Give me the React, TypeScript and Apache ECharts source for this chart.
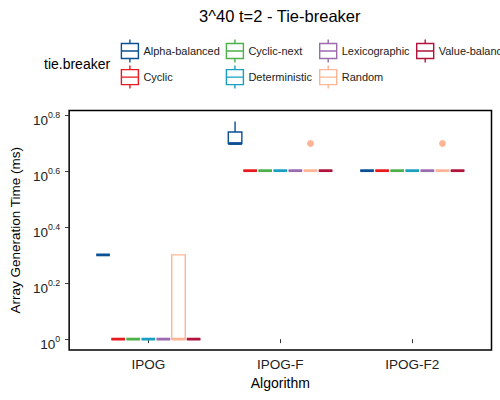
import React, { useEffect, useRef } from "react";
import * as echarts from "echarts";

// ---- data (ms) ----
const algorithms = ["IPOG", "IPOG-F", "IPOG-F2"];
const tieBreakers = [
  "Alpha-balanced",
  "Cyclic",
  "Cyclic-next",
  "Deterministic",
  "Lexicographic",
  "Random",
  "Value-balanced",
];
// five-number summaries [min, q1, median, q3, max] per algorithm
const alphaBalanced = [[2, 2, 2, 2, 2], [5, 5, 5, 5.5, 6], [4, 4, 4, 4, 4]];
const cyclic = [[1, 1, 1, 1, 1], [4, 4, 4, 4, 4], [4, 4, 4, 4, 4]];
const cyclicNext = [[1, 1, 1, 1, 1], [4, 4, 4, 4, 4], [4, 4, 4, 4, 4]];
const deterministic = [[1, 1, 1, 1, 1], [4, 4, 4, 4, 4], [4, 4, 4, 4, 4]];
const lexicographic = [[1, 1, 1, 1, 1], [4, 4, 4, 4, 4], [4, 4, 4, 4, 4]];
const random = [[1, 1, 1, 2, 2], [4, 4, 4, 4, 4], [4, 4, 4, 4, 4]];
const valueBalanced = [[1, 1, 1, 1, 1], [4, 4, 4, 4, 4], [4, 4, 4, 4, 4]];
const randomOutliers = [[], [5], [5]];
const noOutliers = [[], [], []];
const yTickExponents = [0, 0.2, 0.4, 0.6, 0.8];

const summaries = [alphaBalanced, cyclic, cyclicNext, deterministic, lexicographic, random, valueBalanced];
const outlierSets = tieBreakers.map((t) => (t === "Random" ? randomOutliers : noOutliers));

// ---- style ----
const colors = ["#0B4F94", "#E8191F", "#4DB04A", "#1A9FC0", "#9C6BAD", "#FDB596", "#B0143C"];
const legendColumns = [[0, 1], [2, 3], [4, 5], [6]];
const legendLefts = [120.7, 225.7, 319, 416];
const FONT = "Liberation Sans, Arial, Helvetica, sans-serif";
const SLOT = 0.8 / 7;
const Y_MIN = -0.0389;
const Y_MAX = 0.8171;
const ICON = "path://M0,4L17,4L17,19L0,19Z M0,11.5L17,11.5 M8.5,0L8.5,4 M8.5,19L8.5,23";

export default function App() {
  const ref = useRef<HTMLDivElement>(null);
  useEffect(() => {
    if (!ref.current) return;
    const chart = echarts.init(ref.current, undefined, { renderer: "svg" });

    const series = tieBreakers.map((name, si) => ({
      type: "custom",
      name,
      silent: true,
      encode: { x: 0, y: [1, 2, 3, 4, 5] },
      data: summaries[si].map((s, a) => [a + 1, ...s.map((v) => Math.log10(v))]),
      renderItem: (params: any, api: any) => {
        const c = colors[si];
        const xc = api.value(0) + (si - 3) * SLOT;
        const hw = (SLOT * 0.9) / 2;
        const lo = api.value(1), q1 = api.value(2), md = api.value(3), q3 = api.value(4), hi = api.value(5);
        const left = api.coord([xc - hw, md])[0];
        const right = api.coord([xc + hw, md])[0];
        const cx = api.coord([xc, md])[0];
        const yLo = api.coord([xc, lo])[1];
        const yQ1 = api.coord([xc, q1])[1];
        const yMd = api.coord([xc, md])[1];
        const yQ3 = api.coord([xc, q3])[1];
        const yHi = api.coord([xc, hi])[1];
        const children: any[] = [
          { type: "line", shape: { x1: cx, y1: yHi, x2: cx, y2: yQ3 }, style: { stroke: c, lineWidth: 1.4 } },
          { type: "line", shape: { x1: cx, y1: yQ1, x2: cx, y2: yLo }, style: { stroke: c, lineWidth: 1.4 } },
          {
            type: "rect",
            shape: { x: left, y: yQ3, width: right - left, height: yQ1 - yQ3 },
            style: { fill: "#fff", stroke: c, lineWidth: 1.4 },
          },
          { type: "line", shape: { x1: left, y1: yMd, x2: right, y2: yMd }, style: { stroke: c, lineWidth: 2.8 } },
        ];
        (outlierSets[si][params.dataIndex] || []).forEach((v: number) => {
          const p = api.coord([xc, Math.log10(v)]);
          children.push({ type: "circle", shape: { cx: p[0], cy: p[1], r: 3.4 }, style: { fill: c } });
        });
        return { type: "group", children };
      },
    }));

    const legends = legendColumns.map((col, ci) => ({
      orient: "vertical",
      left: legendLefts[ci],
      top: 38.8,
      padding: 0,
      itemWidth: 17,
      itemHeight: 23,
      itemGap: 1.7,
      selectedMode: false,
      textStyle: { fontSize: 11, color: "#222", fontFamily: FONT },
      data: col.map((i) => ({
        name: tieBreakers[i],
        icon: ICON,
        itemStyle: { color: "#fff", borderColor: colors[i], borderWidth: 1.4 },
      })),
    }));

    chart.setOption({
      animation: false,
      textStyle: { fontFamily: FONT },
      title: {
        text: "3^40 t=2 - Tie-breaker",
        left: 279.8,
        top: 7,
        padding: 0,
        textAlign: "center",
        textStyle: { fontSize: 16.5, fontWeight: "normal", color: "#000", fontFamily: FONT },
      },
      graphic: [
        {
          type: "text",
          x: 44,
          y: 64.3,
          style: { text: "tie.breaker", fontSize: 14, fill: "#000", font: `14px ${FONT}`, verticalAlign: "middle" },
        },
      ],
      legend: legends,
      grid: {
        left: 68.5,
        top: 110.5,
        width: 423,
        height: 239.5,
        show: true,
        borderColor: "#000",
        borderWidth: 1.5,
        backgroundColor: "transparent",
        containLabel: false,
      },
      xAxis: {
        type: "value",
        min: 0.4,
        max: 3.6,
        axisLine: { show: false },
        splitLine: { show: false },
        axisTick: { show: true, length: 4, lineStyle: { color: "#333" }, customValues: [1, 2, 3] },
        axisLabel: {
          customValues: [1, 2, 3],
          formatter: (v: number) => algorithms[Math.round(v) - 1],
          fontSize: 13.5,
          color: "#222",
          margin: 7,
        },
        name: "Algorithm",
        nameLocation: "middle",
        nameGap: 26,
        nameTextStyle: { fontSize: 14, color: "#000" },
      },
      yAxis: {
        type: "value",
        min: Y_MIN,
        max: Y_MAX,
        axisLine: { show: false },
        splitLine: { show: false },
        axisTick: { show: true, length: 4, lineStyle: { color: "#333" }, customValues: yTickExponents },
        axisLabel: {
          customValues: yTickExponents,
          formatter: (v: number) => `{b|10}{s|${+v.toFixed(1)}}`,
          margin: 9,
          padding: [7.4, 0, 0, 0],
          rich: {
            b: { fontSize: 13.5, lineHeight: 17, verticalAlign: "bottom", color: "#222" },
            s: { fontSize: 8.8, lineHeight: 9, verticalAlign: "top", color: "#222" },
          },
        },
        name: "Array Generation Time (ms)",
        nameLocation: "middle",
        nameGap: 43,
        nameTextStyle: { fontSize: 13.5, color: "#000" },
      },
      series,
    });
    return () => chart.dispose();
  }, []);
  return <div ref={ref} style={{ position: "absolute", left: 0, top: 0, width: 500, height: 400 }} />;
}
